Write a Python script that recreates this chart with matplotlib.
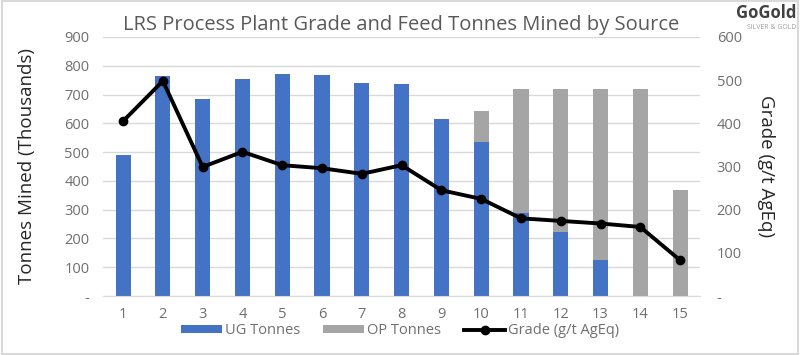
import matplotlib.pyplot as plt
import numpy as np

plt.rcParams['font.family'] = ['Open Sans', 'DejaVu Sans']

periods = list(range(1, 16))
ug_tonnes = [490, 764, 684, 754, 771, 768, 740, 737, 615, 535, 290, 223, 127, 0, 0]
op_tonnes = [0, 0, 0, 0, 0, 0, 0, 0, 0, 108, 429, 496, 592, 719, 369]
grade = [405, 498, 299, 334, 303, 296, 283, 303, 245, 225, 180, 174, 168, 160, 83]

grey = '#6f6f6f'
fig = plt.figure(figsize=(8, 3.55), dpi=100)
ax = fig.add_axes([0.129, 0.166, 0.746, 0.730])
ax2 = ax.twinx()

b1 = ax.bar(periods, ug_tonnes, width=0.38, color='#4472C4', label='UG Tonnes', zorder=2)
b2 = ax.bar(periods, op_tonnes, width=0.38, bottom=ug_tonnes, color='#A5A5A5', label='OP Tonnes', zorder=2)
l1, = ax2.plot(periods, grade, color='black', lw=2.8, marker='o', ms=6, label='Grade (g/t AgEq)')

ax.set_xlim(0.5, 15.5)
ax.set_ylim(0, 900)
ax2.set_ylim(0, 600)
ax.set_yticks(range(0, 901, 100))
ax.set_yticklabels(['-'] + [str(v) for v in range(100, 901, 100)])
ax2.set_yticks(range(0, 601, 100))
ax2.set_yticklabels(['-'] + [str(v) for v in range(100, 601, 100)])
ax.set_xticks(periods)
ax.grid(axis='y', color='#D9D9D9', lw=1, zorder=0)
ax.set_axisbelow(True)

for a in (ax, ax2):
    for s in a.spines.values():
        s.set_visible(False)
    a.tick_params(length=0, labelsize=10.5, colors=grey)
ax.spines['bottom'].set_visible(True)
ax.spines['bottom'].set_color('#D9D9D9')
ax.tick_params(axis='x', pad=8)
ax.tick_params(axis='y', pad=10)
ax2.tick_params(axis='y', pad=12)

ax.set_ylabel('Tonnes Mined (Thousands)', fontsize=13.5, color='#262626', labelpad=20)
ax2.set_ylabel('Grade (g/t AgEq)', fontsize=13.5, color='#262626', rotation=270, labelpad=24)
ax.set_title('LRS Process Plant Grade and Feed Tonnes Mined by Source', fontsize=14.5, color='#595959', pad=5)

fig.legend([b1, b2, l1], ['UG Tonnes', 'OP Tonnes', 'Grade (g/t AgEq)'], loc='center',
           bbox_to_anchor=(0.5, 0.068), ncol=3, frameon=False, fontsize=10.5,
           labelcolor=grey, handlelength=2.8, handleheight=0.5, columnspacing=1.6, handletextpad=0.2)

fig.text(0.995, 0.962, 'GoGold', ha='right', va='center', fontsize=12, fontweight='bold', color='#404040')
fig.text(0.995, 0.922, 'SILVER & GOLD', ha='right', va='center', fontsize=5, color='#A0A0A0')

fig.patches.append(plt.Rectangle((0.002, 0.004), 0.996, 0.992, transform=fig.transFigure,
                                 fill=False, edgecolor='#D9D9D9', lw=1.5))

fig.savefig('out.png')
